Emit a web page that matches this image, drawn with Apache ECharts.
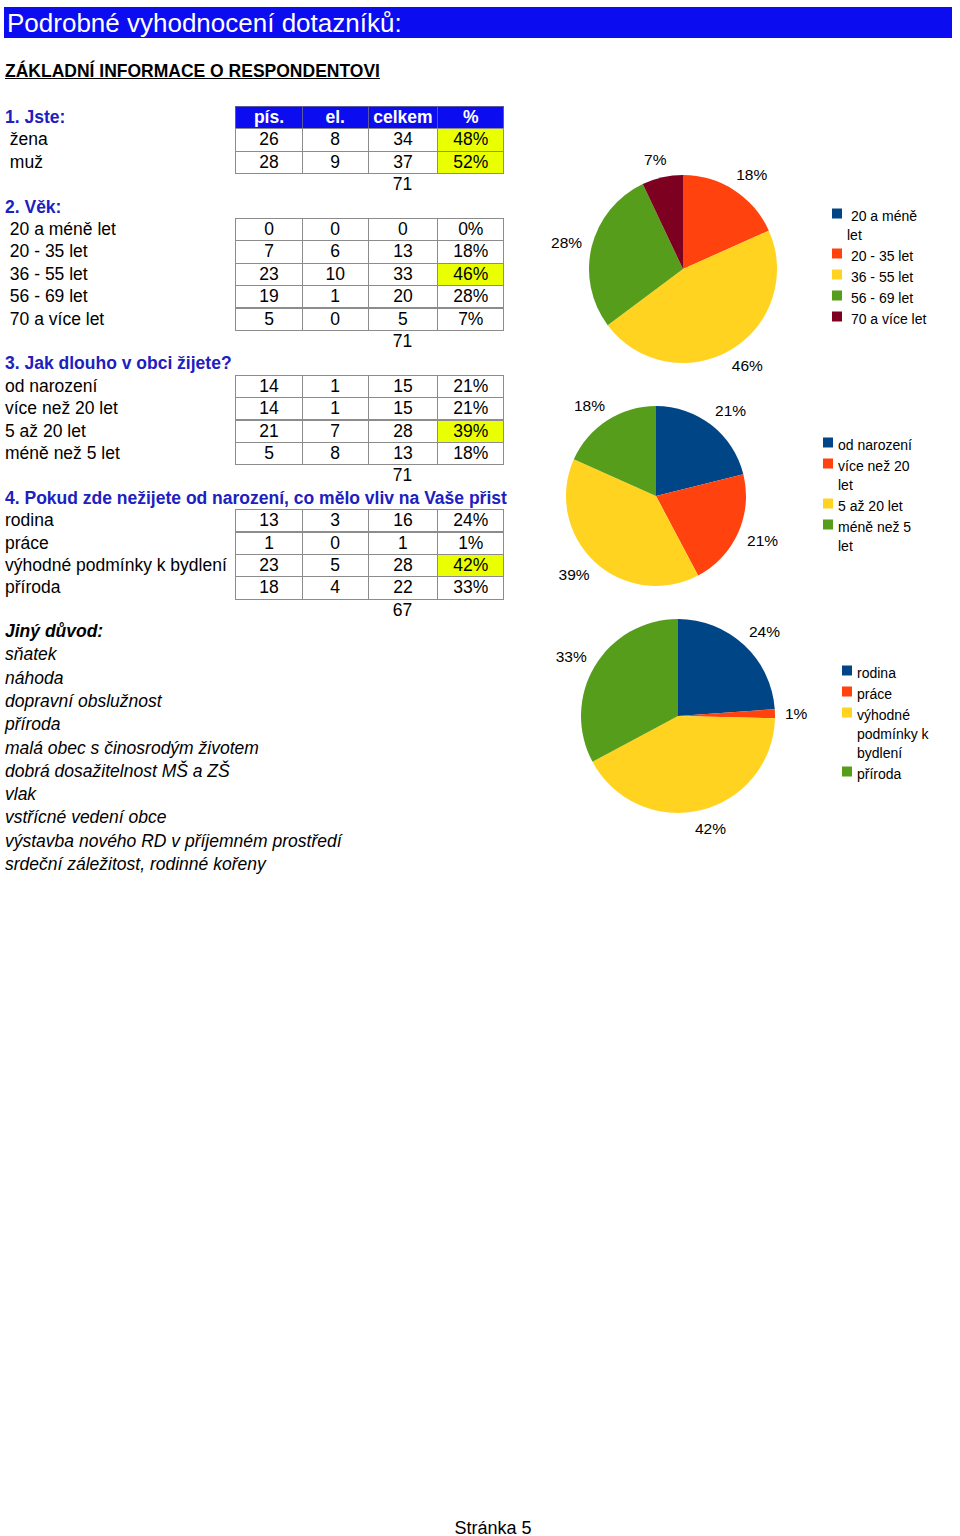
<!DOCTYPE html>
<html>
<head>
<meta charset="utf-8">
<title>Podrobné vyhodnocení dotazníků</title>
<script src="https://cdn.jsdelivr.net/npm/echarts@6/dist/echarts.min.js"></script>
<style>
html,body{margin:0;padding:0;background:#fff;}
body{width:960px;height:1536px;position:relative;overflow:hidden;font-family:"Liberation Sans",Arial,Helvetica,sans-serif;color:#000;}
.t{position:absolute;white-space:pre;font-size:17.5px;}
.cell{position:absolute;box-sizing:border-box;border:1px solid #8c8c8c;text-align:center;font-size:17.5px;white-space:pre;}
</style>
</head>
<body>
<div id="chart" style="position:absolute;left:530px;top:130px;width:430px;height:740px;"></div>
<script>
// ---------- data ----------
const pageTitle = 'Podrobné vyhodnocení dotazníků:';
const subTitle = 'ZÁKLADNÍ INFORMACE O RESPONDENTOVI';
const headers = ['pís.', 'el.', 'celkem', '%'];
const sections = ['1. Jste:', '2. Věk:', '3. Jak dlouho v obci žijete?',
  '4. Pokud zde nežijete od narození, co mělo vliv na Vaše přist'];

const jsteLabels = [' žena', ' muž'];
const jstePis = [26, 28];
const jsteEl = [8, 9];
const jsteCelkem = [34, 37];
const jstePct = ['48%', '52%'];
const jsteTotal = 71;
const jsteHighlight = [0, 1];

const vekLabels = [' 20 a méně let', ' 20 - 35 let', ' 36 - 55 let', ' 56 - 69 let', ' 70 a více let'];
const vekPis = [0, 7, 23, 19, 5];
const vekEl = [0, 6, 10, 1, 0];
const vekCelkem = [0, 13, 33, 20, 5];
const vekPct = ['0%', '18%', '46%', '28%', '7%'];
const vekTotal = 71;
const vekHighlight = [2];
const vekLegend = [' 20 a méně\nlet', ' 20 - 35 let', ' 36 - 55 let', ' 56 - 69 let', ' 70 a více let'];

const dobaLabels = ['od narození', 'více než 20 let', '5 až 20 let', 'méně než 5 let'];
const dobaPis = [14, 14, 21, 5];
const dobaEl = [1, 1, 7, 8];
const dobaCelkem = [15, 15, 28, 13];
const dobaPct = ['21%', '21%', '39%', '18%'];
const dobaTotal = 71;
const dobaHighlight = [2];
const dobaLegend = ['od narození', 'více než 20\nlet', '5 až 20 let', 'méně než 5\nlet'];

const duvodLabels = ['rodina', 'práce', 'výhodné podmínky k bydlení', 'příroda'];
const duvodPis = [13, 1, 23, 18];
const duvodEl = [3, 0, 5, 4];
const duvodCelkem = [16, 1, 28, 22];
const duvodPct = ['24%', '1%', '42%', '33%'];
const duvodTotal = 67;
const duvodHighlight = [2];
const duvodLegend = ['rodina', 'práce', 'výhodné\npodmínky k\nbydlení', 'příroda'];

const jinyTitle = 'Jiný důvod:';
const jinyDuvod = ['sňatek', 'náhoda', 'dopravní obslužnost', 'příroda',
  'malá obec s činosrodým životem', 'dobrá dosažitelnost MŠ a ZŠ', 'vlak',
  'vstřícné vedení obce', 'výstavba nového RD v příjemném prostředí',
  'srdeční záležitost, rodinné kořeny'];
const footer = 'Stránka 5';

// ---------- page layout (HTML text & tables) ----------
const FONT = '"Liberation Sans", Arial, Helvetica, sans-serif';
const BLUE_FILL = '#0c0cf0';
const BLUE_TEXT = '#2020c0';
const YELLOW = '#eaff00';
const COLX = [235.3, 301.7, 367.7, 437.3, 503.3];
const ROW0 = 105.9, RH = 22.4;
function rowTop(i) { return ROW0 + i * RH; }

function addDiv(cls, css, text) {
  const d = document.createElement('div');
  d.className = cls;
  Object.assign(d.style, css);
  d.textContent = text;
  document.body.appendChild(d);
  return d;
}
function addText(x, top, h, text, extra) {
  return addDiv('t', Object.assign({left: x + 'px', top: top + 'px', height: h + 'px', lineHeight: h + 'px'}, extra || {}), text);
}
function addCell(c, row, text, bg, extra) {
  const l = COLX[c], w = COLX[c + 1] - COLX[c] + 1;
  return addDiv('cell', Object.assign({left: l + 'px', top: rowTop(row) + 'px', width: w + 'px',
    height: (RH + 1) + 'px', lineHeight: (RH - 1) + 'px', background: bg || '#fff'}, extra || {}), text);
}

// title bar
addDiv('t', {left: '4px', top: '7px', width: '948px', height: '31px', background: BLUE_FILL}, '');
addText(7, 9.5, 26, pageTitle, {fontSize: '26px', color: '#fff'});
// subtitle
addText(5, 60, 22, subTitle, {fontWeight: 'bold', textDecoration: 'underline'});

function addSection(headRow, title, labels, pis, el, cel, pct, total, hl, labelX, withHeader) {
  addText(5, rowTop(headRow), RH, title, {fontWeight: 'bold', color: BLUE_TEXT});
  if (withHeader) {
    headers.forEach((h, c) => addCell(c, headRow, h, BLUE_FILL, {color: '#fff', fontWeight: 'bold', borderColor: '#5a5a9a'}));
  }
  labels.forEach((lab, i) => {
    const r = headRow + 1 + i;
    addText(labelX, rowTop(r), RH, lab);
    addCell(0, r, String(pis[i]));
    addCell(1, r, String(el[i]));
    addCell(2, r, String(cel[i]));
    addCell(3, r, pct[i], hl.indexOf(i) >= 0 ? YELLOW : '#fff');
  });
  const tr = headRow + 1 + labels.length;
  addText(COLX[2], rowTop(tr), RH, String(total), {width: (COLX[3] - COLX[2]) + 'px', textAlign: 'center'});
}
addSection(0, sections[0], jsteLabels, jstePis, jsteEl, jsteCelkem, jstePct, jsteTotal, jsteHighlight, 5, true);
addSection(4, sections[1], vekLabels, vekPis, vekEl, vekCelkem, vekPct, vekTotal, vekHighlight, 5, false);
addSection(11, sections[2], dobaLabels, dobaPis, dobaEl, dobaCelkem, dobaPct, dobaTotal, dobaHighlight, 5, false);
addSection(17, sections[3], duvodLabels, duvodPis, duvodEl, duvodCelkem, duvodPct, duvodTotal, duvodHighlight, 5, false);

// other reasons
const J0 = 631.7, JH = 23.3;
addText(5, J0 - JH / 2, JH, jinyTitle, {fontWeight: 'bold', fontStyle: 'italic'});
jinyDuvod.forEach((s, j) => addText(5, J0 + (j + 1) * JH - JH / 2, JH, s, {fontStyle: 'italic'}));

// footer
addText(0, 1517, 22, footer, {width: '986px', textAlign: 'center', fontSize: '18px'});

// ---------- pies (ECharts) ----------
const OX = 530, OY = 130; // chart container offset on the page
const COLORS = ['#004586', '#ff420e', '#ffd320', '#579d1c', '#7e0021'];
const PIE_CENTERS = [[153, 139], [126, 366], [148, 586]];
const PIE_RADII = [94, 90, 97];

// shift outside labels so their box sits off the rim the way the office chart places them
function pieLabelLayout(p) {
  const c = PIE_CENTERS[p.seriesIndex];
  const r = p.labelRect;
  const vx = r.x + r.width / 2 - c[0], vy = r.y + r.height / 2 - c[1];
  const len = Math.hypot(vx, vy) || 1;
  const nx = vx / len, ny = vy / len;
  const side = nx >= 0 ? 1 : -1;
  return {
    dx: -side * (r.width / 2) * Math.pow(1 - Math.abs(nx), 1.5),
    dy: 9 * ny
  };
}

function pieSeries(idx, labels, values, pcts) {
  return {
    type: 'pie',
    center: PIE_CENTERS[idx],
    radius: PIE_RADII[idx],
    startAngle: 90,
    clockwise: true,
    avoidLabelOverlap: false,
    silent: true,
    label: {
      show: true, position: 'outside', color: '#000', fontSize: 15.5, fontFamily: FONT,
      distanceToLabelLine: 0,
      formatter: p => pcts[p.dataIndex]
    },
    labelLine: {show: false, length: 10, length2: 0},
    labelLayout: pieLabelLayout,
    itemStyle: {borderWidth: 0},
    data: labels.map((n, i) => {
      const d = {name: n, value: values[i], itemStyle: {color: COLORS[i]}};
      if (values[i] === 0) d.label = {show: false};
      return d;
    })
  };
}

// one legend component per entry, so wrapped entries keep their marker on the first text line
const LINE_H = 19, ENTRY_GAP = 2, ICON = 10;
function legendsFor(labels, wrapped, iconX, firstLineY) {
  const out = [];
  let y = firstLineY;
  labels.forEach((name, i) => {
    const lines = wrapped[i].split('\n');
    const n = lines.length;
    const spacer = LINE_H * n - 14;           // invisible line above the text block
    const boxH = LINE_H * n + spacer;
    const iconCenter = y - 2.5;
    const rich = '{sp| }\n' + lines.map(l => '{t|' + l + '}').join('\n');
    out.push({
      data: [{name: name, icon: 'rect'}],
      orient: 'vertical',
      left: iconX - OX,
      top: iconCenter - boxH / 2 - OY,
      itemWidth: ICON, itemHeight: ICON, padding: 0,
      selectedMode: false,
      textStyle: {
        color: '#000', fontFamily: FONT,
        rich: {
          sp: {fontSize: 1, lineHeight: spacer, height: spacer},
          t: {fontSize: 14, lineHeight: LINE_H, color: '#000', fontFamily: FONT}
        }
      },
      formatter: () => rich
    });
    y += LINE_H * n + ENTRY_GAP;
  });
  return out;
}

const chart = echarts.init(document.getElementById('chart'), null, {renderer: 'svg'});
chart.setOption({
  animation: false,
  backgroundColor: 'transparent',
  legend: [].concat(
    legendsFor(vekLabels, vekLegend, 832, 216),
    legendsFor(dobaLabels, dobaLegend, 823, 445),
    legendsFor(duvodLabels, duvodLegend, 842, 673)
  ),
  series: [
    pieSeries(0, vekLabels, vekCelkem, vekPct),
    pieSeries(1, dobaLabels, dobaCelkem, dobaPct),
    pieSeries(2, duvodLabels, duvodCelkem, duvodPct)
  ]
});
</script>
</body>
</html>
